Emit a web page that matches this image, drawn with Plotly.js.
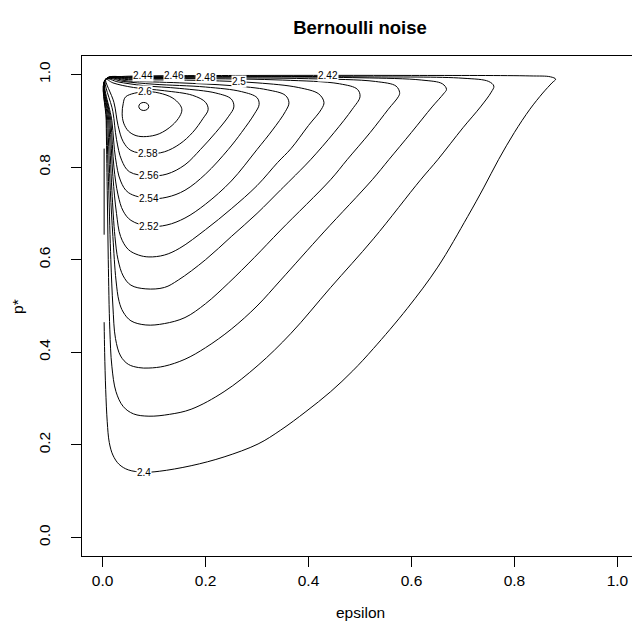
<!DOCTYPE html>
<html>
<head>
<meta charset="utf-8">
<script src="https://cdn.plot.ly/plotly-3.0.1.min.js"></script>
<style>
html,body{margin:0;padding:0;overflow:hidden;background:#fff;}
#chart{width:640px;height:625px;}
</style>
</head>
<body>
<div id="chart"></div>
<script>
// ---- contour lines (epsilon, p*) ----
const levels = ["2.4","2.42","2.44","2.46","2.48","2.5","2.52","2.54","2.56","2.58","2.6","2.62"];

const eps_240 = [0.003,0.004,0.006,0.009,0.013,0.02,0.032,0.05,0.08,0.11,0.172,0.236,0.302,0.346,0.395,0.443,0.486,0.526,0.592,0.651,0.709,0.74,0.769,0.80,0.83,0.855,0.873,0.88,0.87,0.83,0.6,0.3,0.1,0.03,0.006,null,0.003,0.003];
const p_240   = [0.465,0.40,0.32,0.25,0.205,0.178,0.158,0.146,0.141,0.143,0.155,0.174,0.202,0.232,0.272,0.315,0.36,0.408,0.495,0.584,0.693,0.755,0.816,0.875,0.925,0.96,0.982,0.99,0.995,0.997,0.998,0.998,0.997,0.995,0.99,null,0.84,0.654];

const eps_242 = [0.006,0.007,0.009,0.011,0.014,0.018,0.026,0.04,0.06,0.09,0.13,0.172,0.236,0.302,0.366,0.443,0.526,0.618,0.651,0.7,0.734,0.755,0.76,0.75,0.7,0.5,0.2,0.05,0.006];
const p_242   = [0.99,0.9,0.75,0.6,0.45,0.37,0.315,0.283,0.267,0.262,0.266,0.277,0.315,0.372,0.441,0.54,0.645,0.773,0.816,0.885,0.93,0.962,0.975,0.985,0.992,0.995,0.996,0.995,0.99];

const eps_244 = [0.006,0.008,0.012,0.016,0.02,0.025,0.035,0.05,0.07,0.09,0.12,0.16,0.2,0.25,0.3,0.346,0.43,0.524,0.556,0.6,0.64,0.662,0.668,0.66,0.62,0.5,0.2,0.05,0.006];
const p_244   = [0.99,0.9,0.75,0.6,0.5,0.43,0.392,0.374,0.367,0.366,0.37,0.385,0.41,0.45,0.5,0.556,0.66,0.773,0.816,0.875,0.93,0.958,0.968,0.98,0.988,0.993,0.995,0.994,0.99];

const eps_246 = [0.006,0.01,0.015,0.02,0.026,0.032,0.04,0.055,0.084,0.12,0.16,0.2,0.245,0.295,0.346,0.443,0.475,0.52,0.555,0.575,0.577,0.57,0.53,0.4,0.2,0.05,0.006];
const p_246   = [0.99,0.9,0.75,0.65,0.556,0.51,0.487,0.468,0.459,0.462,0.475,0.505,0.55,0.605,0.664,0.773,0.816,0.875,0.925,0.953,0.961,0.975,0.985,0.991,0.993,0.993,0.99];

const eps_248 = [0.006,0.012,0.018,0.024,0.03,0.04,0.055,0.084,0.12,0.147,0.2,0.25,0.3,0.346,0.366,0.404,0.45,0.485,0.5,0.495,0.46,0.35,0.2,0.05,0.006];
const p_248   = [0.99,0.9,0.75,0.65,0.6,0.565,0.545,0.537,0.54,0.556,0.6,0.65,0.7,0.751,0.773,0.816,0.875,0.925,0.952,0.968,0.98,0.988,0.991,0.991,0.99];

const eps_250 = [0.006,0.014,0.02,0.027,0.035,0.05,0.07,0.09,0.12,0.15,0.2,0.25,0.3,0.34,0.366,0.4,0.425,0.43,0.42,0.38,0.3,0.2,0.05,0.006];
const p_250   = [0.99,0.9,0.78,0.7,0.65,0.622,0.61,0.606,0.61,0.625,0.665,0.71,0.76,0.81,0.84,0.89,0.925,0.94,0.958,0.972,0.982,0.987,0.989,0.99];

const eps_252 = [0.006,0.016,0.022,0.03,0.04,0.055,0.09,0.125,0.16,0.2,0.25,0.3,0.33,0.355,0.362,0.355,0.32,0.25,0.15,0.05,0.006];
const p_252   = [0.99,0.9,0.8,0.74,0.705,0.685,0.672,0.675,0.69,0.72,0.77,0.838,0.88,0.92,0.939,0.955,0.967,0.976,0.982,0.986,0.99];

const eps_254 = [0.006,0.018,0.025,0.035,0.05,0.09,0.125,0.16,0.2,0.244,0.27,0.295,0.304,0.3,0.27,0.2,0.1,0.04,0.006];
const p_254   = [0.99,0.9,0.82,0.77,0.745,0.732,0.735,0.75,0.785,0.838,0.875,0.915,0.935,0.95,0.963,0.973,0.979,0.985,0.99];

const eps_256 = [0.006,0.02,0.027,0.037,0.052,0.09,0.125,0.16,0.19,0.22,0.245,0.255,0.25,0.22,0.15,0.08,0.03,0.006];
const p_256   = [0.99,0.92,0.86,0.815,0.79,0.781,0.785,0.805,0.838,0.875,0.91,0.93,0.947,0.96,0.97,0.976,0.984,0.99];

const eps_258 = [0.006,0.022,0.03,0.04,0.055,0.088,0.12,0.15,0.175,0.195,0.205,0.2,0.175,0.12,0.06,0.02,0.006];
const p_258   = [0.99,0.94,0.89,0.855,0.836,0.829,0.833,0.85,0.875,0.905,0.924,0.94,0.955,0.965,0.972,0.982,0.99];

const eps_260 = [0.045,0.082,0.11,0.135,0.15,0.154,0.15,0.135,0.11,0.085,0.065,0.05,0.041,0.038,0.04,0.045];
const p_260   = [0.952,0.963,0.96,0.95,0.935,0.924,0.91,0.89,0.872,0.866,0.868,0.878,0.895,0.915,0.937,0.952];

const eps_262 = [0.0897,0.0869,0.08,0.0731,0.0703,0.0731,0.08,0.0869,0.0897];
const p_262   = [0.931,0.9372,0.9397,0.9372,0.931,0.9248,0.9223,0.9248,0.931];

// contour labels
const labelText = ["2.4","2.52","2.54","2.56","2.58","2.6","2.44","2.46","2.48","2.5","2.42"];
const labelEps  = [0.08,0.09,0.09,0.09,0.088,0.082,0.079,0.139,0.2,0.264,0.437];
const labelP    = [0.141,0.672,0.732,0.781,0.829,0.963,0.998,0.997,0.993,0.985,0.998];

const xTicks = [0,0.2,0.4,0.6,0.8,1.0];
const xTickText = ["0.0","0.2","0.4","0.6","0.8","1.0"];
const yTicks = [0,0.2,0.4,0.6,0.8,1.0];
const yTickText = ["0.0","0.2","0.4","0.6","0.8","1.0"];

const series = [
  [eps_240,p_240],[eps_242,p_242],[eps_244,p_244],[eps_246,p_246],[eps_248,p_248],
  [eps_250,p_250],[eps_252,p_252],[eps_254,p_254],[eps_256,p_256],[eps_258,p_258],
  [eps_260,p_260],[eps_262,p_262]
];

const FONT = "Liberation Sans, Arial, Helvetica, sans-serif";

const traces = series.map((s,i) => ({
  type: "scatter", mode: "lines", x: s[0], y: s[1], name: levels[i],
  line: {color: "#000", width: 1, shape: "spline", smoothing: 1},
  connectgaps: false, hoverinfo: "skip", showlegend: false
}));

const annotations = labelText.map((t,i) => ({
  x: labelEps[i], y: labelP[i], xref: "x", yref: "y", text: t, showarrow: false,
  font: {family: FONT, size: 10, color: "#000"}, bgcolor: "#fff", borderpad: 0,
  xanchor: "center", yanchor: "middle"
}));

annotations.push({
  xref: "paper", yref: "paper", x: 0.5, y: -0.112, yanchor: "middle", xanchor: "center",
  text: "epsilon", showarrow: false, font: {family: FONT, size: 15.5, color: "#000"}
});
annotations.push({
  xref: "paper", yref: "paper", x: -0.117, y: 0.5, xanchor: "center", yanchor: "middle",
  text: "p*", textangle: -90, showarrow: false, font: {family: FONT, size: 15.5, color: "#000"}
});

const layout = {
  width: 640, height: 625,
  margin: {l: 82, r: 2, t: 56, b: 69},
  paper_bgcolor: "#fff", plot_bgcolor: "#fff",
  title: {text: "Bernoulli noise", font: {family: FONT, size: 18.5, weight: 700, color: "#000"},
          x: 0.5, xref: "paper", y: 1 - 28/625, yref: "container", yanchor: "middle"},
  xaxis: {range: [-0.04, 1.04], tickvals: xTicks, ticktext: xTickText, ticks: "outside",
          ticklen: 10, tickcolor: "#000", tickwidth: 1, showline: true, mirror: true,
          linecolor: "#000", linewidth: 1, showgrid: false, zeroline: false,
          tickfont: {family: FONT, size: 15.5, color: "#000"}, fixedrange: true},
  yaxis: {range: [-0.04, 1.04], tickvals: yTicks, ticktext: yTickText, ticks: "outside",
          ticklen: 10, tickcolor: "#000", tickwidth: 1, showline: true, mirror: true,
          linecolor: "#000", linewidth: 1, showgrid: false, zeroline: false, tickangle: -90,
          ticklabelstandoff: 15,
          tickfont: {family: FONT, size: 15.5, color: "#000"}, fixedrange: true},
  annotations: annotations,
  showlegend: false
};

Plotly.newPlot("chart", traces, layout, {staticPlot: true, displayModeBar: false});
</script>
</body>
</html>
